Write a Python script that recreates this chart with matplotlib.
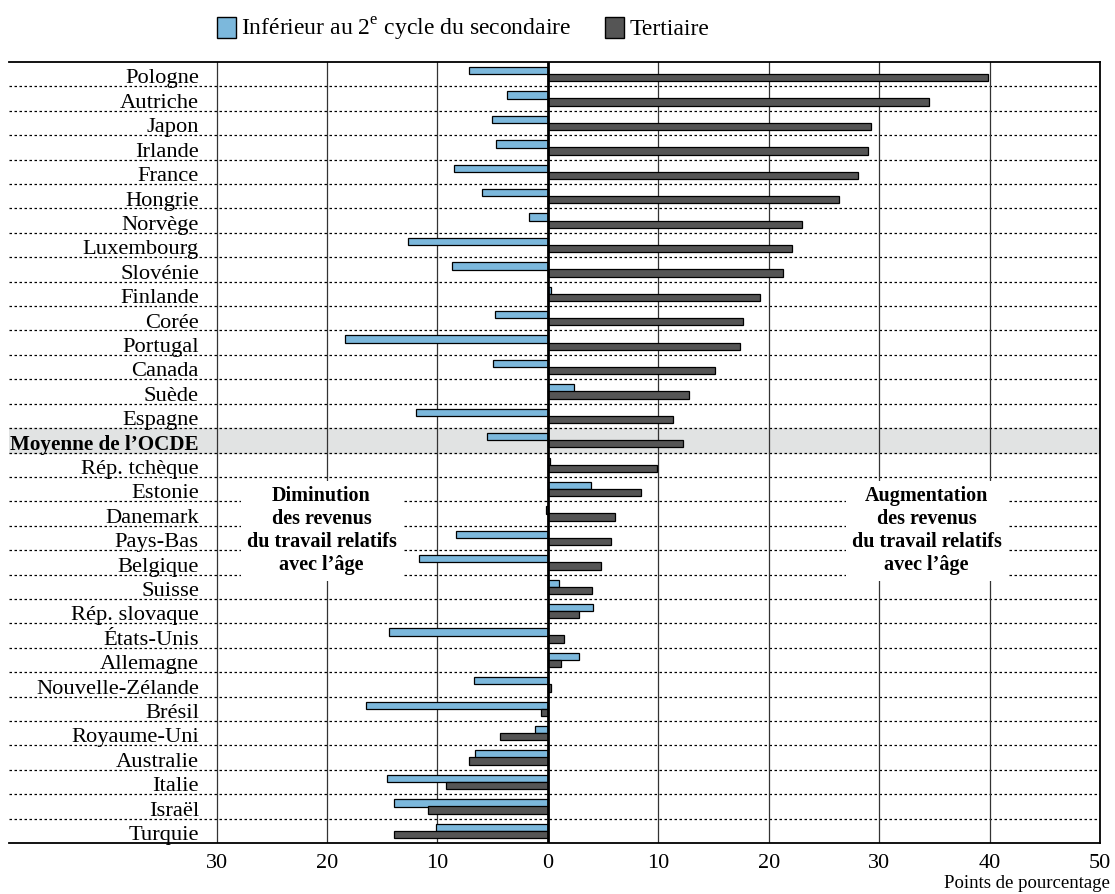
import numpy as np
import matplotlib
matplotlib.use("Agg")
import matplotlib.pyplot as plt
from matplotlib.patches import Patch

plt.rcParams['font.family'] = ['Liberation Serif', 'DejaVu Serif']
plt.rcParams['mathtext.fontset'] = 'custom'
plt.rcParams['mathtext.rm'] = 'Liberation Serif'

# Data
countries = ["Pologne", "Autriche", "Japon", "Irlande", "France", "Hongrie",
             "Norvège", "Luxembourg", "Slovénie", "Finlande", "Corée",
             "Portugal", "Canada", "Suède", "Espagne", "Moyenne de l’OCDE",
             "Rép. tchèque", "Estonie", "Danemark", "Pays-Bas", "Belgique",
             "Suisse", "Rép. slovaque", "États-Unis", "Allemagne",
             "Nouvelle-Zélande", "Brésil", "Royaume-Uni", "Australie",
             "Italie", "Israël", "Turquie"]
below_upper_sec = [-7.1, -3.7, -5.1, -4.7, -8.5, -6.0, -1.7, -12.7, -8.7, 0.3,
                   -4.8, -18.4, -5.0, 2.4, -11.9, -5.5, 0.2, 3.9, -0.2, -8.3,
                   -11.7, 1.0, 4.1, -14.4, 2.8, -6.7, -16.5, -1.2, -6.6,
                   -14.6, -13.9, -10.1]
tertiary = [39.9, 34.5, 29.3, 29.0, 28.1, 26.4, 23.0, 22.1, 21.3, 19.2, 17.7,
            17.4, 15.1, 12.8, 11.3, 12.2, 9.9, 8.4, 6.1, 5.7, 4.8, 4.0, 2.8,
            1.5, 1.2, 0.3, -0.6, -4.3, -7.1, -9.2, -10.9, -13.9]
xticks = [-30, -20, -10, 0, 10, 20, 30, 40, 50]
avg_label = "Moyenne de l’OCDE"

blue = '#7cb8dc'
dark = '#555555'

fig = plt.figure(figsize=(11.15, 8.94), dpi=100)
ax = fig.add_axes([9 / 1115, 1 - 843 / 894, (1100 - 9) / 1115, (843 - 62) / 894])

y = np.arange(len(countries))
h = 0.3
ax.barh(y - 0.145, below_upper_sec, height=h, color=blue, edgecolor='black',
        linewidth=0.9, zorder=3)
ax.barh(y + 0.145, tertiary, height=h, color=dark, edgecolor='black',
        linewidth=0.9, zorder=3)

ax.set_xlim(-48.8, 50)
ax.set_ylim(len(countries) - 0.5, -0.5)

# OECD average band
iavg = countries.index(avg_label)
ax.axhspan(iavg - 0.5, iavg + 0.5, color='#e1e3e3', zorder=0)

# row separators
for i in range(len(countries) - 1):
    ax.axhline(i + 0.5, color='black', lw=0.9, dashes=(2, 2), zorder=1)

# vertical grid
for t in xticks:
    if t == 0:
        ax.axvline(0, color='black', lw=2, zorder=4)
    else:
        ax.axvline(t, color='#333333', lw=0.9, zorder=1)

# country labels
for i, c in enumerate(countries):
    if c == avg_label:
        ax.text(-31.6, i + 0.38, c, ha='right', va='baseline', fontsize=15.2,
                fontweight='bold', zorder=5)
    else:
        ax.text(-31.6, i + 0.38, c, ha='right', va='baseline', fontsize=16.2,
                zorder=5)

# annotations
box = dict(facecolor='white', edgecolor='none', pad=4)
ax.text(-20.5, 18.7, "Diminution\ndes revenus\ndu travail relatifs\navec l’âge",
        ha='center', va='center', fontsize=14.5, fontweight='bold',
        linespacing=1.19, bbox=box, zorder=2)
ax.text(34.3, 18.7, "Augmentation\ndes revenus\ndu travail relatifs\navec l’âge",
        ha='center', va='center', fontsize=14.5, fontweight='bold',
        linespacing=1.19, bbox=box, zorder=2)

ax.set_xticks(xticks)
ax.set_xticklabels([str(abs(t)) for t in xticks], fontsize=16)
ax.tick_params(axis='x', length=0, pad=8)
ax.set_yticks([])
ax.spines['left'].set_visible(False)
for s in ['top', 'bottom', 'right']:
    ax.spines[s].set_linewidth(1.3)

fig.text(1110 / 1115, 1 - 884 / 894, "Points de pourcentage", ha='right',
         va='center', fontsize=13.5)

handles = [Patch(facecolor=blue, edgecolor='black'),
           Patch(facecolor=dark, edgecolor='black')]
labels = [r"Inférieur au 2$^{\rm e}$ cycle du secondaire", "Tertiaire"]
fig.legend(handles, labels, loc='center', bbox_to_anchor=(463 / 1115, 1 - 29 / 894),
           ncol=2, frameon=False, fontsize=17, handlelength=0.8,
           handleheight=1.0, handletextpad=0.25, columnspacing=1.4)

fig.savefig('out.png', dpi=100)
